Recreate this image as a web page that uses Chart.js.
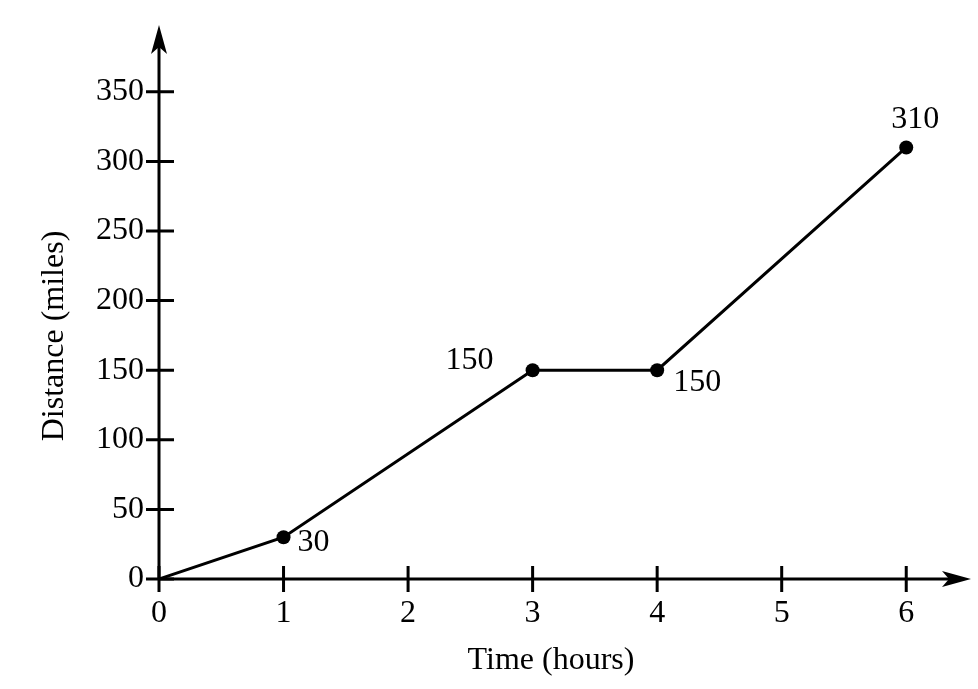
<!DOCTYPE html>
<html>
<head>
<meta charset="utf-8">
<script src="https://cdn.jsdelivr.net/npm/chart.js@4.4.0/dist/chart.umd.min.js"></script>
<style>
  html, body { margin: 0; padding: 0; background: #fff; }
  #wrap { width: 978px; height: 689px; }
</style>
</head>
<body>
<div id="wrap"><canvas id="chart"></canvas></div>
<script>
const hours = [0, 1, 3, 4, 6];
const miles = [0, 30, 150, 150, 310];
const pointLabels = ["", "30", "150", "150", "310"];
const xTicks = [0, 1, 2, 3, 4, 5, 6];
const yTicks = [0, 50, 100, 150, 200, 250, 300, 350];
const xTitle = "Time (hours)";
const yTitle = "Distance (miles)";

const serif = "'Liberation Serif', 'Times New Roman', serif";
const fontSize = 32;

// where each point label sits around its dot
const labelPlace = [null, "right", "leftUp", "rightDown", "up"];

const drawAxes = {
	id: "drawAxes",
	afterDatasetsDraw(chart) {
		const ctx = chart.ctx;
		const xs = chart.scales.x;
		const ys = chart.scales.y;
		const x0 = xs.getPixelForValue(0);
		const y0 = ys.getPixelForValue(0);
		const area = chart.chartArea;

		ctx.save();
		ctx.strokeStyle = "#000";
		ctx.fillStyle = "#000";
		ctx.lineWidth = 3;

		// axis lines
		ctx.beginPath();
		ctx.moveTo(x0, y0);
		ctx.lineTo(x0, area.top + 10);
		ctx.moveTo(x0, y0);
		ctx.lineTo(area.right - 10, y0);
		ctx.stroke();

		// tick marks crossing the axes
		ctx.beginPath();
		yTicks.forEach(function (v) {
			const py = ys.getPixelForValue(v);
			ctx.moveTo(x0 - 13, py);
			ctx.lineTo(x0 + 15, py);
		});
		xTicks.forEach(function (v) {
			const px = xs.getPixelForValue(v);
			ctx.moveTo(px, y0 - 13);
			ctx.lineTo(px, y0 + 13);
		});
		ctx.stroke();

		// arrow heads
		ctx.beginPath();
		ctx.moveTo(x0, area.top);
		ctx.lineTo(x0 + 8, area.top + 29);
		ctx.lineTo(x0, area.top + 22);
		ctx.lineTo(x0 - 8, area.top + 29);
		ctx.closePath();
		ctx.fill();

		ctx.beginPath();
		ctx.moveTo(area.right, y0);
		ctx.lineTo(area.right - 29, y0 - 8);
		ctx.lineTo(area.right - 22, y0);
		ctx.lineTo(area.right - 29, y0 + 8);
		ctx.closePath();
		ctx.fill();

		// point labels
		ctx.font = fontSize + "px " + serif;
		ctx.textBaseline = "middle";
		const meta = chart.getDatasetMeta(0);
		meta.data.forEach(function (pt, i) {
			const txt = pointLabels[i];
			if (!txt) return;
			const place = labelPlace[i];
			if (place === "right") {
				ctx.textAlign = "left";
				ctx.fillText(txt, pt.x + 14, pt.y + 5);
			} else if (place === "leftUp") {
				ctx.textAlign = "right";
				ctx.fillText(txt, pt.x - 39, pt.y - 10);
			} else if (place === "rightDown") {
				ctx.textAlign = "left";
				ctx.fillText(txt, pt.x + 16, pt.y + 12);
			} else {
				ctx.textAlign = "center";
				ctx.fillText(txt, pt.x + 9, pt.y - 28);
			}
		});

		// axis titles
		ctx.textAlign = "center";
		ctx.fillText(xTitle, 551, 661);
		ctx.translate(55, 336);
		ctx.rotate(-Math.PI / 2);
		ctx.fillText(yTitle, 0, 0);
		ctx.restore();
	},
};

const theChart = new Chart(document.getElementById("chart"), {
	type: "line",
	data: {
		datasets: [
			{
				data: hours.map(function (h, i) {
					return { x: h, y: miles[i] };
				}),
				borderColor: "#000",
				backgroundColor: "#000",
				borderWidth: 3,
				tension: 0,
				pointRadius: [0, 7, 7, 7, 7],
				pointHoverRadius: 7,
				pointBackgroundColor: "#000",
				pointBorderWidth: 0,
			},
		],
	},
	options: {
		responsive: true,
		maintainAspectRatio: false,
		animation: false,
		events: [],
		layout: {
			padding: { left: 0, right: 3, top: 25, bottom: 0 },
		},
		plugins: {
			legend: { display: false },
			tooltip: { enabled: false },
		},
		scales: {
			x: {
				type: "linear",
				min: 0,
				max: 6.52,
				grid: { display: false, drawTicks: false },
				border: { display: false },
				afterBuildTicks: function (scale) {
					scale.ticks = xTicks.map(function (v) {
						return { value: v };
					});
				},
				afterFit: function (scale) {
					scale.height = 110;
					scale.paddingLeft = 0;
					scale.paddingRight = 0;
				},
				ticks: {
					color: "#000",
					padding: 15,
					maxRotation: 0,
					font: { family: serif, size: fontSize },
				},
			},
			y: {
				type: "linear",
				min: 0,
				max: 398,
				grid: { display: false, drawTicks: false },
				border: { display: false },
				afterBuildTicks: function (scale) {
					scale.ticks = yTicks.map(function (v) {
						return { value: v };
					});
				},
				afterFit: function (scale) {
					scale.width = 159;
					scale.paddingTop = 0;
					scale.paddingBottom = 0;
				},
				ticks: {
					color: "#000",
					padding: 15,
					font: { family: serif, size: fontSize },
				},
			},
		},
	},
	plugins: [drawAxes],
});
</script>
</body>
</html>
